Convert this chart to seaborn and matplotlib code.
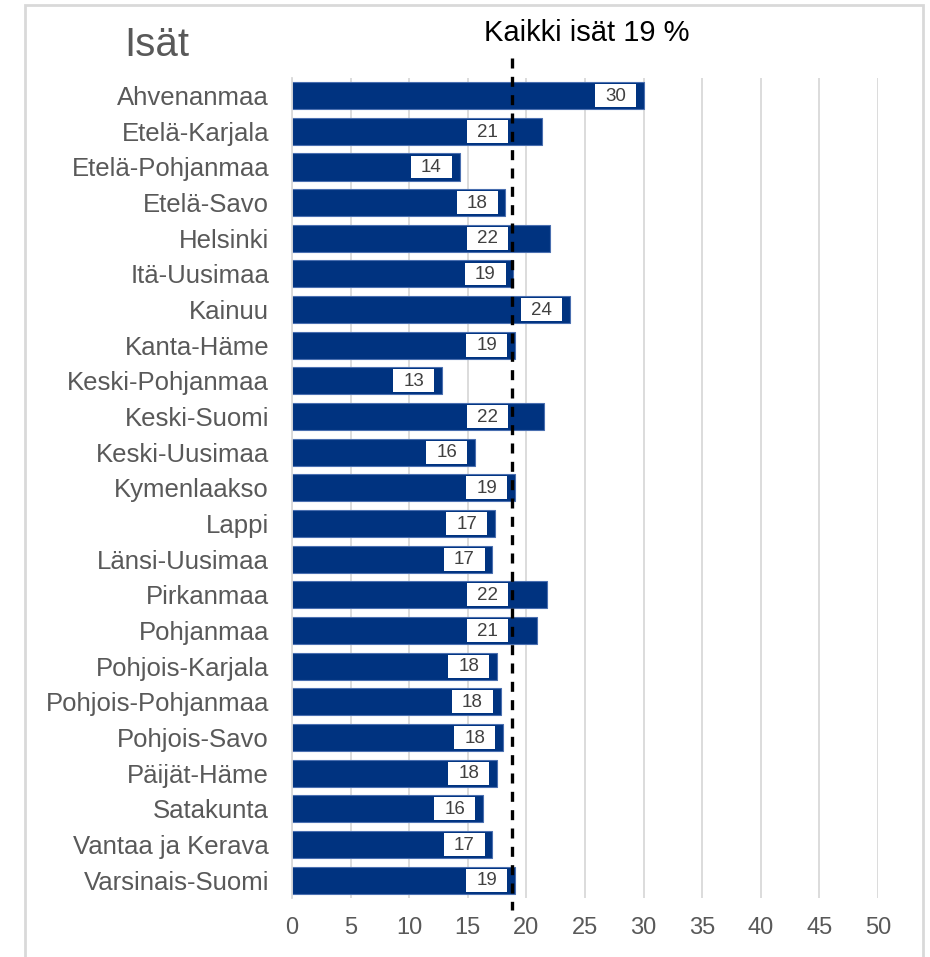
import pandas as pd
import matplotlib.pyplot as plt
import matplotlib.patches as mpatches
import seaborn as sns

# Data
regions = ['Ahvenanmaa', 'Etelä-Karjala', 'Etelä-Pohjanmaa', 'Etelä-Savo', 'Helsinki',
           'Itä-Uusimaa', 'Kainuu', 'Kanta-Häme', 'Keski-Pohjanmaa', 'Keski-Suomi',
           'Keski-Uusimaa', 'Kymenlaakso', 'Lappi', 'Länsi-Uusimaa', 'Pirkanmaa',
           'Pohjanmaa', 'Pohjois-Karjala', 'Pohjois-Pohjanmaa', 'Pohjois-Savo',
           'Päijät-Häme', 'Satakunta', 'Vantaa ja Kerava', 'Varsinais-Suomi']
shares = [30.0, 21.3, 14.3, 18.2, 22.0, 18.9, 23.7, 19.0, 12.8, 21.5, 15.6, 19.0,
          17.3, 17.1, 21.8, 20.9, 17.5, 17.8, 18.0, 17.5, 16.3, 17.1, 19.0]
labels = [30, 21, 14, 18, 22, 19, 24, 19, 13, 22, 16, 19,
          17, 17, 22, 21, 18, 18, 18, 18, 16, 17, 19]
all_fathers = 18.8
ticks = list(range(0, 55, 5))

df = pd.DataFrame({'Region': regions, 'Share': shares})

sns.set_style('white')
plt.rcParams['font.family'] = ['Liberation Sans', 'DejaVu Sans']

fig = plt.figure(figsize=(9.3, 9.57), dpi=100)
ax = fig.add_axes([0.314, 0.0617, 0.63, 0.857])

sns.barplot(data=df, y='Region', x='Share', orient='h', color='#003380',
            saturation=1, width=0.76, edgecolor='#4a6fb0', linewidth=0.8, ax=ax)

# value labels in white boxes at the inside end of each bar,
# pushed left of the dashed line when they would cover it
box_w, box_h, gap = 3.5, 0.64, 0.65
for i, (v, lab) in enumerate(zip(shares, labels)):
    right = v - gap
    if right - box_w < all_fathers + 0.3:
        right = min(right, all_fathers - 0.4)
    ax.add_patch(mpatches.Rectangle((right - box_w, i - box_h / 2), box_w, box_h,
                                    fc='white', ec='none', zorder=3))
    ax.text(right - box_w / 2, i + 0.02, str(lab), ha='center', va='center',
            fontsize=13.5, color='#404040', zorder=4)

ax.set_xlim(0, 50)
ax.set_ylim(len(regions) - 0.5, -0.5)
ax.set_xticks(ticks)
ax.grid(axis='x', color='#d9d9d9', linewidth=1.3)
ax.set_axisbelow(True)
for s in ['top', 'right', 'bottom']:
    ax.spines[s].set_visible(False)
ax.spines['left'].set_color('#d9d9d9')
ax.spines['left'].set_linewidth(1.3)
ax.tick_params(axis='x', colors='#595959', labelsize=17, length=0, pad=14)
ax.tick_params(axis='y', colors='#595959', labelsize=18.5, length=0, pad=16.5)
ax.set_xlabel('')
ax.set_ylabel('')

# dashed reference line for all fathers
ax.plot([all_fathers, all_fathers], [-1.06, len(regions) - 0.16], color='black',
        linestyle=(0, (3.0, 2.5)), linewidth=2.4, clip_on=False, zorder=5)
fig.text(0.631, 0.965, 'Kaikki isät 19 %', ha='center', va='center', fontsize=21,
         color='black')
fig.text(0.134, 0.953, 'Isät', ha='left', va='center', fontsize=29, color='#595959')

# light frame around the chart
fig.patches.append(mpatches.Rectangle((25 / 930, -0.01), 898 / 930, 1 - 5 / 957 + 0.01,
                                      transform=fig.transFigure, fill=False,
                                      ec='#d9d9d9', lw=2))

fig.savefig('out.png', dpi=100)
